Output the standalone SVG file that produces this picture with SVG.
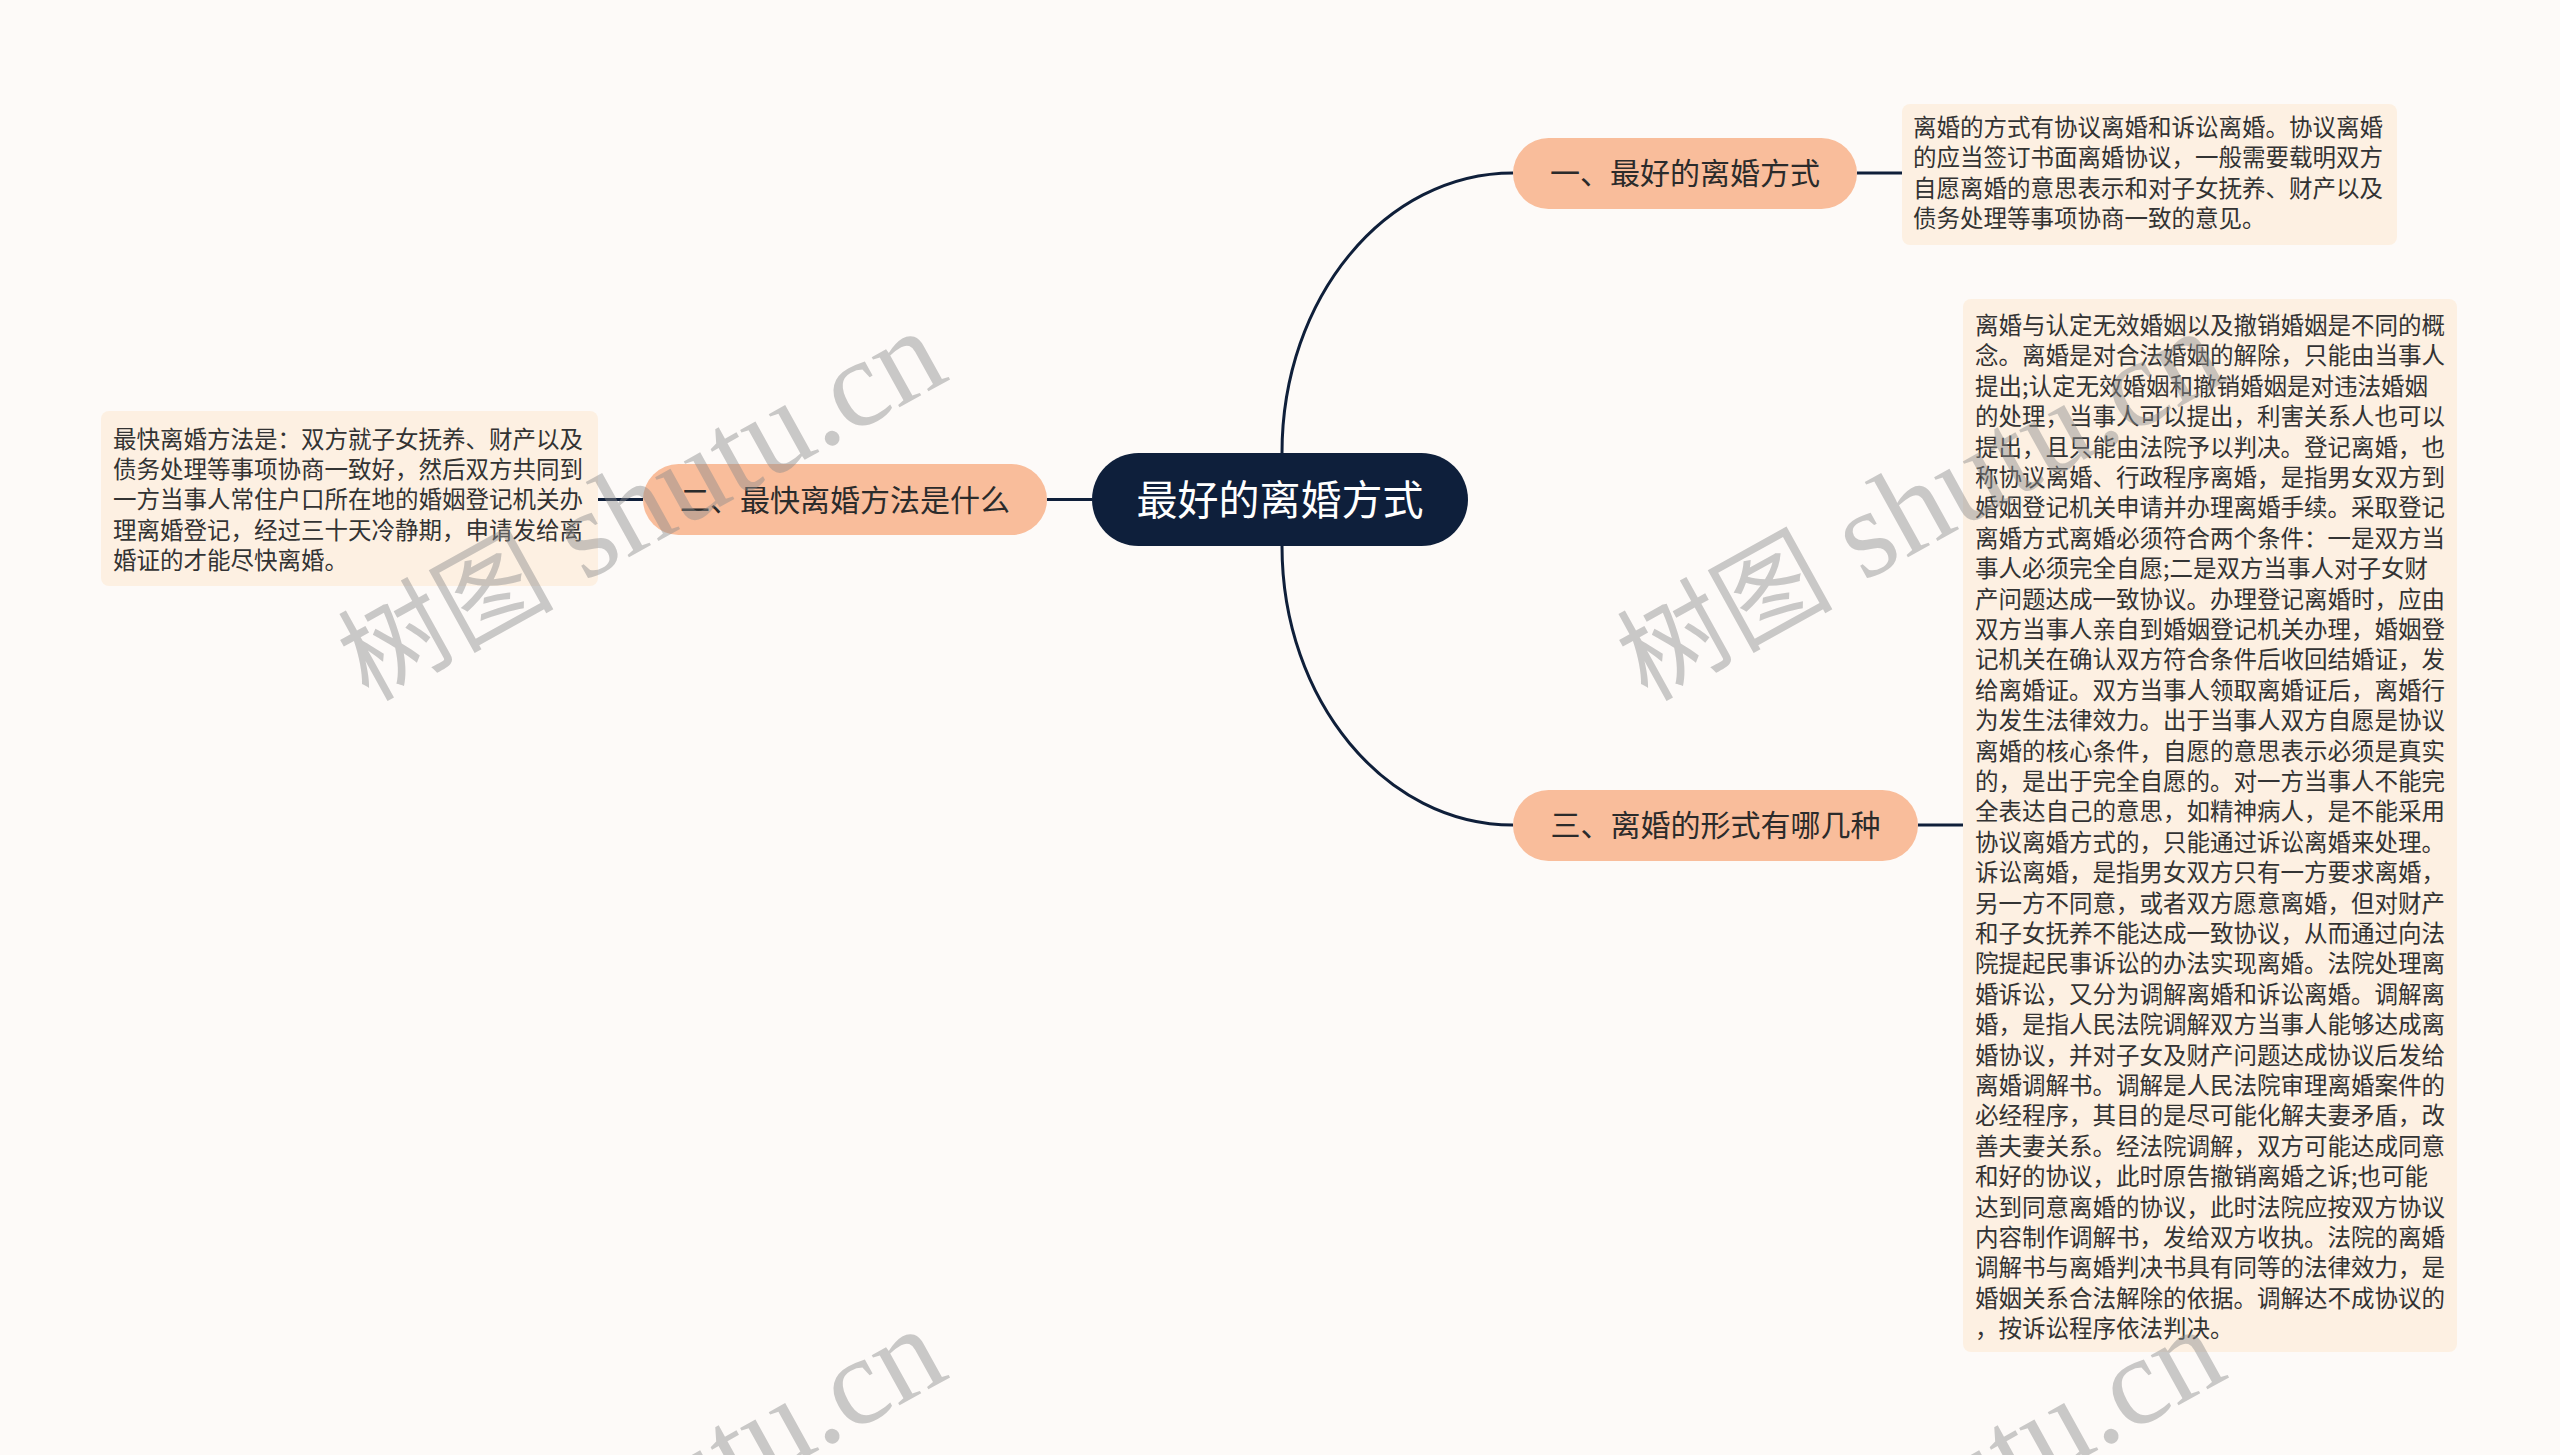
<svg xmlns="http://www.w3.org/2000/svg" width="2560" height="1455" viewBox="0 0 2560 1455">
<style>
.bg{fill:#fdfaf8}
.box{fill:#fdf0e2}
.btxt{font-family:"Noto Sans CJK SC","Noto Sans",sans-serif;font-size:23.5px;fill:#333}
.node{fill:#f9bd9b}
.ntxt{font-family:"Noto Sans CJK SC","Noto Sans",sans-serif;font-size:30px;fill:#2b2b2b;text-anchor:middle}
.root{fill:#0e1f3b}
.rtxt{font-family:"Noto Sans CJK SC","Noto Sans",sans-serif;font-size:41px;fill:#ffffff;text-anchor:middle}
.link{stroke:#0f1f3a;stroke-width:3;fill:none}
.wm{font-family:"Liberation Serif","Noto Sans CJK SC",serif;fill:#8c8c8c;opacity:0.45}
</style>
<rect class="bg" x="0" y="0" width="2560" height="1455"/>
<g id="connectors">
<path class="link" d="M1282,453 C1282,298 1385,173 1513,173"/>
<path class="link" d="M1282,546 C1282,700 1385,825 1513,825"/>
<path class="link" d="M1092,499.5 L1047,499.5"/>
<path class="link" d="M643,499.5 L598,499.5"/>
<path class="link" d="M1857,173 L1902,173"/>
<path class="link" d="M1918,825 L1963,825"/>
</g>
<g id="root">
<rect class="root" x="1092" y="453" width="376" height="93" rx="46.5"/>
<text class="rtxt" x="1280" y="514.5">最好的离婚方式</text>
</g>
<g id="node1">
<rect class="node" x="1513" y="138" width="344" height="71" rx="35.5"/>
<text class="ntxt" x="1685" y="184">一、最好的离婚方式</text>
</g>
<g id="node2">
<rect class="node" x="643" y="464" width="404" height="71" rx="35.5"/>
<text class="ntxt" x="845" y="510.5">二、最快离婚方法是什么</text>
</g>
<g id="node3">
<rect class="node" x="1513" y="790" width="405" height="71" rx="35.5"/>
<text class="ntxt" x="1715.5" y="836">三、离婚的形式有哪几种</text>
</g>
<g id="detail1">
<rect class="box" x="1902" y="104" width="495" height="141" rx="8"/>
<text class="btxt" x="1913" y="136"><tspan x="1913">离婚的方式有协议离婚和诉讼离婚。协议离婚</tspan><tspan x="1913" dy="30.4">的应当签订书面离婚协议，一般需要载明双方</tspan><tspan x="1913" dy="30.4">自愿离婚的意思表示和对子女抚养、财产以及</tspan><tspan x="1913" dy="30.4">债务处理等事项协商一致的意见。</tspan></text>
</g>
<g id="detail2">
<rect class="box" x="101" y="411" width="497" height="175" rx="8"/>
<text class="btxt" x="113" y="447.5"><tspan x="113">最快离婚方法是：双方就子女抚养、财产以及</tspan><tspan x="113" dy="30.4">债务处理等事项协商一致好，然后双方共同到</tspan><tspan x="113" dy="30.4">一方当事人常住户口所在地的婚姻登记机关办</tspan><tspan x="113" dy="30.4">理离婚登记，经过三十天冷静期，申请发给离</tspan><tspan x="113" dy="30.4">婚证的才能尽快离婚。</tspan></text>
</g>
<g id="detail3">
<rect class="box" x="1963" y="299" width="494" height="1053" rx="8"/>
<text class="btxt" x="1975" y="334"><tspan x="1975">离婚与认定无效婚姻以及撤销婚姻是不同的概</tspan><tspan x="1975" dy="30.4">念。离婚是对合法婚姻的解除，只能由当事人</tspan><tspan x="1975" dy="30.4">提出;认定无效婚姻和撤销婚姻是对违法婚姻</tspan><tspan x="1975" dy="30.4">的处理，当事人可以提出，利害关系人也可以</tspan><tspan x="1975" dy="30.4">提出，且只能由法院予以判决。登记离婚，也</tspan><tspan x="1975" dy="30.4">称协议离婚、行政程序离婚，是指男女双方到</tspan><tspan x="1975" dy="30.4">婚姻登记机关申请并办理离婚手续。采取登记</tspan><tspan x="1975" dy="30.4">离婚方式离婚必须符合两个条件：一是双方当</tspan><tspan x="1975" dy="30.4">事人必须完全自愿;二是双方当事人对子女财</tspan><tspan x="1975" dy="30.4">产问题达成一致协议。办理登记离婚时，应由</tspan><tspan x="1975" dy="30.4">双方当事人亲自到婚姻登记机关办理，婚姻登</tspan><tspan x="1975" dy="30.4">记机关在确认双方符合条件后收回结婚证，发</tspan><tspan x="1975" dy="30.4">给离婚证。双方当事人领取离婚证后，离婚行</tspan><tspan x="1975" dy="30.4">为发生法律效力。出于当事人双方自愿是协议</tspan><tspan x="1975" dy="30.4">离婚的核心条件，自愿的意思表示必须是真实</tspan><tspan x="1975" dy="30.4">的，是出于完全自愿的。对一方当事人不能完</tspan><tspan x="1975" dy="30.4">全表达自己的意思，如精神病人，是不能采用</tspan><tspan x="1975" dy="30.4">协议离婚方式的，只能通过诉讼离婚来处理。</tspan><tspan x="1975" dy="30.4">诉讼离婚，是指男女双方只有一方要求离婚，</tspan><tspan x="1975" dy="30.4">另一方不同意，或者双方愿意离婚，但对财产</tspan><tspan x="1975" dy="30.4">和子女抚养不能达成一致协议，从而通过向法</tspan><tspan x="1975" dy="30.4">院提起民事诉讼的办法实现离婚。法院处理离</tspan><tspan x="1975" dy="30.4">婚诉讼，又分为调解离婚和诉讼离婚。调解离</tspan><tspan x="1975" dy="30.4">婚，是指人民法院调解双方当事人能够达成离</tspan><tspan x="1975" dy="30.4">婚协议，并对子女及财产问题达成协议后发给</tspan><tspan x="1975" dy="30.4">离婚调解书。调解是人民法院审理离婚案件的</tspan><tspan x="1975" dy="30.4">必经程序，其目的是尽可能化解夫妻矛盾，改</tspan><tspan x="1975" dy="30.4">善夫妻关系。经法院调解，双方可能达成同意</tspan><tspan x="1975" dy="30.4">和好的协议，此时原告撤销离婚之诉;也可能</tspan><tspan x="1975" dy="30.4">达到同意离婚的协议，此时法院应按双方协议</tspan><tspan x="1975" dy="30.4">内容制作调解书，发给双方收执。法院的离婚</tspan><tspan x="1975" dy="30.4">调解书与离婚判决书具有同等的法律效力，是</tspan><tspan x="1975" dy="30.4">婚姻关系合法解除的依据。调解达不成协议的</tspan><tspan x="1975" dy="30.4">，按诉讼程序依法判决。</tspan></text>
</g>
<g id="watermarks">
<text class="wm" transform="translate(368,702) rotate(-29)"><tspan font-size="108">树图</tspan><tspan font-size="125"> shutu.cn</tspan></text>
<text class="wm" transform="translate(1647,702) rotate(-29)"><tspan font-size="108">树图</tspan><tspan font-size="125"> shutu.cn</tspan></text>
<text class="wm" transform="translate(368,1700) rotate(-29)"><tspan font-size="108">树图</tspan><tspan font-size="125"> shutu.cn</tspan></text>
<text class="wm" transform="translate(1647,1700) rotate(-29)"><tspan font-size="108">树图</tspan><tspan font-size="125"> shutu.cn</tspan></text>
</g>
</svg>
